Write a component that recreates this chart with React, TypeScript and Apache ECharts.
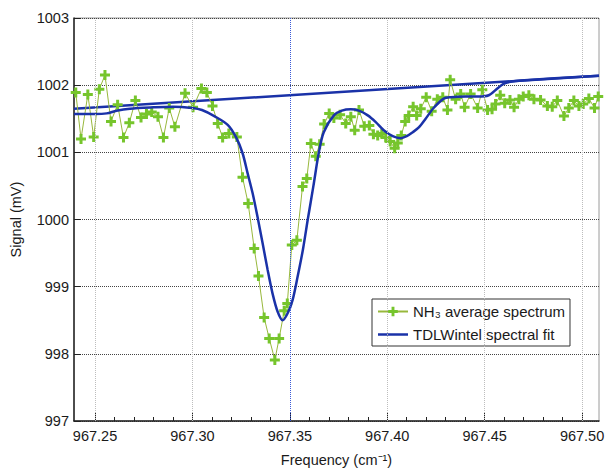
import React, { useEffect, useRef } from "react";
import * as echarts from "echarts";

// Measured NH3 absorption spectrum (frequency in cm^-1, signal in mV)
const specFreq = [
  967.2401, 967.2428, 967.2463, 967.2493, 967.2522, 967.2551, 967.2582, 967.2616, 967.2646, 967.2676,
  967.2707, 967.2736, 967.2764, 967.2791, 967.2823, 967.2851, 967.2881, 967.2910, 967.2962, 967.3003,
  967.3046, 967.3074, 967.3103, 967.3130, 967.3155, 967.3187, 967.3228, 967.3257, 967.3286, 967.3317,
  967.3339, 967.3368, 967.3394, 967.3423, 967.3445, 967.3471, 967.3487, 967.3510, 967.3536, 967.3565,
  967.3587, 967.3608, 967.3633, 967.3653, 967.3676, 967.3702, 967.3726, 967.3758, 967.3787, 967.3813,
  967.3833, 967.3855, 967.3882, 967.3908, 967.3929, 967.3951, 967.3972, 967.3992, 967.4015, 967.4038,
  967.4054, 967.4072, 967.4092, 967.4110, 967.4133, 967.4151, 967.4172, 967.4200, 967.4228, 967.4257,
  967.4285, 967.4309, 967.4323, 967.4351, 967.4377, 967.4397, 967.4428, 967.4464, 967.4488, 967.4515,
  967.4538, 967.4556, 967.4580, 967.4603, 967.4630, 967.4651, 967.4676, 967.4698, 967.4727, 967.4753,
  967.4787, 967.4822, 967.4847, 967.4873, 967.4907, 967.4932, 967.4958, 967.4984, 967.5006, 967.5035,
  967.5064, 967.5083,
];
const specSignal = [
  1001.89, 1001.2, 1001.86, 1001.23, 1001.94, 1002.15, 1001.46, 1001.71, 1001.22, 1001.44,
  1001.77, 1001.52, 1001.57, 1001.6, 1001.53, 1001.22, 1001.66, 1001.38, 1001.88, 1001.67,
  1001.95, 1001.89, 1001.69, 1001.43, 1001.22, 1001.28, 1001.23, 1000.63, 1000.24, 999.57,
  999.16, 998.54, 998.23, 997.91, 998.23, 998.64, 998.75, 999.62, 999.69, 1000.49,
  1000.61, 1001.13, 1000.94, 1001.12, 1001.42, 1001.58, 1001.51, 1001.56, 1001.43, 1001.53,
  1001.33, 1001.63, 1001.39, 1001.4, 1001.27, 1001.25, 1001.28, 1001.22, 1001.16, 1001.06,
  1001.14, 1001.25, 1001.46, 1001.55, 1001.68, 1001.55, 1001.65, 1001.82, 1001.61, 1001.79,
  1001.82, 1001.63, 1002.08, 1001.79, 1001.87, 1001.67, 1001.87, 1001.66, 1001.93, 1001.63,
  1001.64, 1001.72, 1001.85, 1001.73, 1001.78, 1001.67, 1001.79, 1001.83, 1001.85, 1001.79,
  1001.78, 1001.69, 1001.68, 1001.77, 1001.54, 1001.66, 1001.77, 1001.69, 1001.72, 1001.8,
  1001.66, 1001.83,
];

// Spectral fit
const fitFreq = [
  967.2392, 967.25, 967.256, 967.261, 967.2679, 967.28, 967.29, 967.3, 967.3049, 967.3112,
  967.3181, 967.3223, 967.3257, 967.3283, 967.3309, 967.3334, 967.336, 967.3386, 967.3411, 967.3437,
  967.3463, 967.3488, 967.3514, 967.354, 967.3567, 967.3592, 967.3621, 967.3649, 967.3674, 967.3726,
  967.3767, 967.3813, 967.3854, 967.39, 967.3941, 967.3982, 967.4028, 967.4069, 967.41, 967.4131,
  967.4162, 967.4197, 967.4238, 967.429, 967.4326, 967.4403, 967.4464, 967.4521, 967.4565, 967.4597,
  967.4633, 967.4685, 967.5087,
];
const fitSignal = [
  1001.57, 1001.57, 1001.58, 1001.62, 1001.65, 1001.67, 1001.68, 1001.66, 1001.63, 1001.54,
  1001.41, 1001.23, 1000.99, 1000.69, 1000.39, 1000.04, 999.65, 999.25, 998.9, 998.63,
  998.5, 998.6, 998.8, 999.15, 999.55, 1000.0, 1000.5, 1001.0, 1001.3, 1001.55,
  1001.62, 1001.64, 1001.62, 1001.55, 1001.45, 1001.33, 1001.24, 1001.21, 1001.24, 1001.3,
  1001.37, 1001.5, 1001.66, 1001.8, 1001.82, 1001.83, 1001.83, 1001.85, 1001.95, 1002.02,
  1002.05, 1002.07, 1002.14,
];

// Fitted baseline
const baseFreq = [967.2392, 967.5087];
const baseSignal = [1001.65, 1002.14];

// Axis ranges and ticks
const xMin = 967.2392;
const xMax = 967.5087;
const xMajorTicks = [967.25, 967.3, 967.35, 967.4, 967.45, 967.5];
const xMinorTicks = [
  967.26, 967.27, 967.28, 967.29, 967.31, 967.32, 967.33, 967.34, 967.36, 967.37,
  967.38, 967.39, 967.41, 967.42, 967.43, 967.44, 967.46, 967.47, 967.48, 967.49,
];
const yMin = 997;
const yMax = 1003;

const seriesNames = ["NH\u2083 average spectrum", "TDLWintel spectral fit"];

const FONT = "'Liberation Sans', Arial, Helvetica, sans-serif";
const TEXT = "#1a1a1a";
const GREEN = "#76c52c";
const GREEN_LINE = "#98b83c";
const BLUE = "#1a32a8";
const PLUS = "path://M3.5,0H6.5V3.5H10V6.5H6.5V10H3.5V6.5H0V3.5H3.5Z";
const LINE_ICON = "path://M0,0H30V2.5H0Z";

const zip = (xs: number[], ys: number[]) => xs.map((x, i) => [x, ys[i]]);

export default function App() {
  const ref = useRef<HTMLDivElement>(null);

  useEffect(() => {
    if (!ref.current) return;
    const chart = echarts.init(ref.current, undefined, { renderer: "svg" });

    const gridLines = xMajorTicks.map((v) =>
      v === 967.35
        ? { xAxis: v, lineStyle: { color: "#3a5ad8", type: "dotted", width: 1 } }
        : { xAxis: v }
    );

    chart.setOption({
      animation: false,
      backgroundColor: "#ffffff",
      textStyle: { fontFamily: FONT },
      grid: {
        left: 73,
        right: 10,
        top: 18,
        bottom: 52,
        show: true,
        borderColor: "#9a9a9a",
        borderWidth: 1,
        backgroundColor: "#ffffff",
      },
      legend: {
        data: [
          { name: seriesNames[0] },
          { name: seriesNames[1], icon: LINE_ICON, itemStyle: { color: BLUE } },
        ],
        orient: "vertical",
        left: 372,
        top: 299,
        itemWidth: 30,
        itemHeight: 12,
        itemGap: 8,
        padding: [5, 5, 4, 5],
        borderColor: "#333",
        borderWidth: 1,
        backgroundColor: "#ffffff",
        textStyle: { fontSize: 15, color: TEXT, fontFamily: FONT },
      },
      xAxis: [
        {
          type: "value",
          min: xMin,
          max: xMax,
          name: "Frequency (cm\u207B\u00B9)",
          nameLocation: "middle",
          nameGap: 31,
          nameTextStyle: { fontSize: 14.5, color: TEXT, fontFamily: FONT },
          axisLine: { show: true, lineStyle: { color: "#222", width: 1.5 } },
          axisTick: {
            show: true,
            inside: true,
            length: 8,
            customValues: xMajorTicks,
            lineStyle: { color: "#222", width: 1 },
          },
          axisLabel: {
            customValues: xMajorTicks,
            formatter: (v: number) => v.toFixed(2),
            fontSize: 14.5,
            color: TEXT,
            fontFamily: FONT,
            margin: 7,
          },
          splitLine: { show: false },
        },
        {
          type: "value",
          min: xMin,
          max: xMax,
          position: "bottom",
          axisLine: { show: false },
          axisTick: {
            show: true,
            inside: true,
            length: 4,
            customValues: xMinorTicks,
            lineStyle: { color: "#222", width: 1 },
          },
          axisLabel: { show: false },
          splitLine: { show: false },
        },
      ],
      yAxis: {
        type: "value",
        min: yMin,
        max: yMax,
        interval: 1,
        name: "Signal (mV)",
        nameLocation: "middle",
        nameGap: 51,
        nameTextStyle: { fontSize: 14.5, color: TEXT, fontFamily: FONT },
        axisLine: { show: true, lineStyle: { color: "#222", width: 1.5 } },
        axisTick: { show: true, inside: true, length: 7, lineStyle: { color: "#222" } },
        axisLabel: {
          fontSize: 14.5,
          color: TEXT,
          fontFamily: FONT,
          margin: 5,
          formatter: (v: number) => String(v),
        },
        splitLine: { show: true, lineStyle: { color: "#444", type: "dotted", width: 1 } },
      },
      series: [
        {
          name: "baseline",
          type: "line",
          z: 1,
          data: zip(baseFreq, baseSignal),
          symbol: "none",
          lineStyle: { color: BLUE, width: 2.5 },
          markLine: {
            silent: true,
            symbol: ["none", "none"],
            label: { show: false },
            lineStyle: { color: "#bdbdbd", type: "dotted", width: 1 },
            data: gridLines,
          },
        },
        {
          name: seriesNames[0],
          type: "line",
          z: 2,
          data: zip(specFreq, specSignal),
          symbol: PLUS,
          symbolSize: 10,
          showSymbol: true,
          itemStyle: { color: GREEN },
          lineStyle: { color: GREEN_LINE, width: 1 },
        },
        {
          name: seriesNames[1],
          type: "line",
          z: 3,
          data: zip(fitFreq, fitSignal),
          symbol: "none",
          smooth: 0.3,
          itemStyle: { color: BLUE },
          lineStyle: { color: BLUE, width: 2.5 },
        },
      ],
    });

    return () => chart.dispose();
  }, []);

  return (
    <div
      ref={ref}
      style={{ position: "absolute", left: 0, top: 0, width: 609, height: 473 }}
    />
  );
}
